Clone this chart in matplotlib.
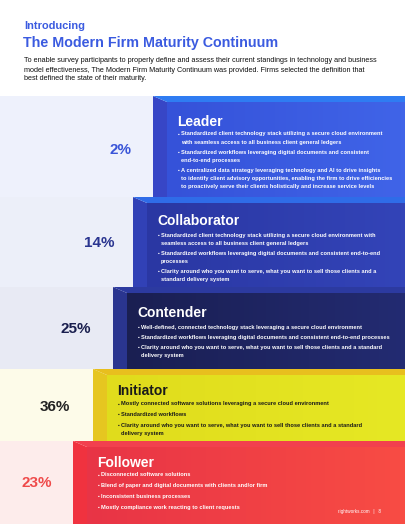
import numpy as np
import matplotlib.pyplot as plt
from matplotlib.patches import Polygon, Rectangle
from matplotlib.colors import LinearSegmentedColormap

plt.rcParams['font.family'] = ['Liberation Sans', 'DejaVu Sans']

# data
levels = ['Leader', 'Collaborator', 'Contender', 'Initiator', 'Follower']
shares = [2, 14, 25, 36, 23]
bullets = [
    ['Standardized client technology stack utilizing a secure cloud environment\nwith seamless access to all business client general ledgers',
     'Standardized workflows leveraging digital documents and consistent\nend-to-end processes',
     'A centralized data strategy leveraging technology and AI to drive insights\nto identify client advisory opportunities, enabling the firm to drive efficiencies\nto proactively serve their clients holistically and increase service levels'],
    ['Standardized client technology stack utilizing a secure cloud environment with\nseamless access to all business client general ledgers',
     'Standardized workflows leveraging digital documents and consistent end-to-end\nprocesses',
     'Clarity around who you want to serve, what you want to sell those clients and a\nstandard delivery system'],
    ['Well-defined, connected technology stack leveraging a secure cloud environment',
     'Standardized workflows leveraging digital documents and consistent end-to-end processes',
     'Clarity around who you want to serve, what you want to sell those clients and a standard\ndelivery system'],
    ['Mostly connected software solutions leveraging a secure cloud environment',
     'Standardized workflows',
     'Clarity around who you want to serve, what you want to sell those clients and a standard\ndelivery system'],
    ['Disconnected software solutions',
     'Blend of paper and digital documents with clients and/or firm',
     'Inconsistent business processes',
     'Mostly compliance work reacting to client requests'],
]

# layout / style
W, H = 405, 524
row_top = [96, 197, 287, 369, 441, H]
step_x = [153, 133, 113, 93, 73]
pct_x = [121, 99, 76, 55, 37]
pct_y = [150, 243, 329, 407, 483]
title_dy = [26, 24, 26, 22, 22]
bullet_dy = [38, 38, 40, 35, 34]
bullet_gap = [10, 10, 10, 10.5, 10.7]
depth, bevel = 14, 6
front_l = ['#3552d9', '#2a37a3', '#1a1f52', '#e0dc1c', '#e83446']
front_r = ['#4064e8', '#3344b8', '#232b72', '#e6e824', '#f84c44']
side_c = ['#3746c6', '#3141b6', '#2a358f', '#e6c620', '#f0323f']
top_c = ['#2f7cf2', '#2f6ce8', '#2c3aa0', '#e8bf1e', '#f2404e']
panel_c = ['#eef1fc', '#eceff9', '#e8eaf4', '#fdfbe9', '#fdeceb']
pct_c = ['#3a55d8', '#2a3590', '#1a1f4e', '#222222', '#ef4a4a']
txt_c = ['white', 'white', 'white', '#1a1a1a', 'white']
blue = '#3b5be0'

fig = plt.figure(figsize=(W / 100, H / 100), dpi=100)
ax = fig.add_axes([0, 0, 1, 1])
ax.set_xlim(0, W)
ax.set_ylim(H, 0)
ax.axis('off')

ax.text(24, 26, 'Introducing', color=blue, fontsize=7.9, fontweight='bold', va='center')
ax.text(23, 43, 'The Modern Firm Maturity Continuum', color=blue, fontsize=10.25,
        fontweight='bold', va='center')
ax.text(24, 70, 'To enable survey participants to properly define and assess their current standings in technology and business\n'
        'model effectiveness, The Modern Firm Maturity Continuum was provided. Firms selected the definition that\n'
        'best defined the state of their maturity.', fontsize=5.2, va='center', linespacing=1.4, color='#111111')

grad = np.linspace(0, 1, 64).reshape(1, -1)
for i, lvl in enumerate(levels):
    yt, yb = row_top[i], row_top[i + 1]
    xs = step_x[i]
    ax.add_patch(Rectangle((0, yt), xs, yb - yt, color=panel_c[i], lw=0))
    cm = LinearSegmentedColormap.from_list(f'g{i}', [front_l[i], front_r[i]])
    ax.imshow(grad, cmap=cm, aspect='auto', extent=(xs + depth, W, yb, yt + bevel), zorder=1)
    ax.add_patch(Polygon([(xs, yt), (xs + depth, yt + bevel), (xs + depth, yb), (xs, yb)],
                         closed=True, color=side_c[i], lw=0, zorder=2))
    ax.add_patch(Polygon([(xs, yt), (W, yt), (W, yt + bevel), (xs + depth, yt + bevel)],
                         closed=True, color=top_c[i], lw=0, zorder=2))

    ax.text(pct_x[i], pct_y[i], f'{shares[i]}%', color=pct_c[i], fontsize=11,
            fontweight='bold', ha='center', va='center', zorder=3)

    tx = xs + 24
    ax.text(tx, yt + title_dy[i], lvl, color=txt_c[i], fontsize=10, fontweight='bold',
            va='center', zorder=3)
    y = yt + bullet_dy[i]
    for b in bullets[i]:
        ax.text(tx + 1, y, '\u25aa', color=txt_c[i], fontsize=3.5, va='center', zorder=3)
        lines = b.split('\n')
        for k, line in enumerate(lines):
            ax.text(tx + 4, y + 8.2 * k, line, color=txt_c[i], fontsize=4.02, fontweight='bold',
                    va='center', zorder=3)
        y += 8.2 * (len(lines) - 1) + bullet_gap[i]

ax.text(338, 511, 'rightworks.com   |   8', color='white', fontsize=3.3, va='center', zorder=3)

ax.set_xlim(0, W)
ax.set_ylim(H, 0)
fig.savefig('out.png', dpi=100)
